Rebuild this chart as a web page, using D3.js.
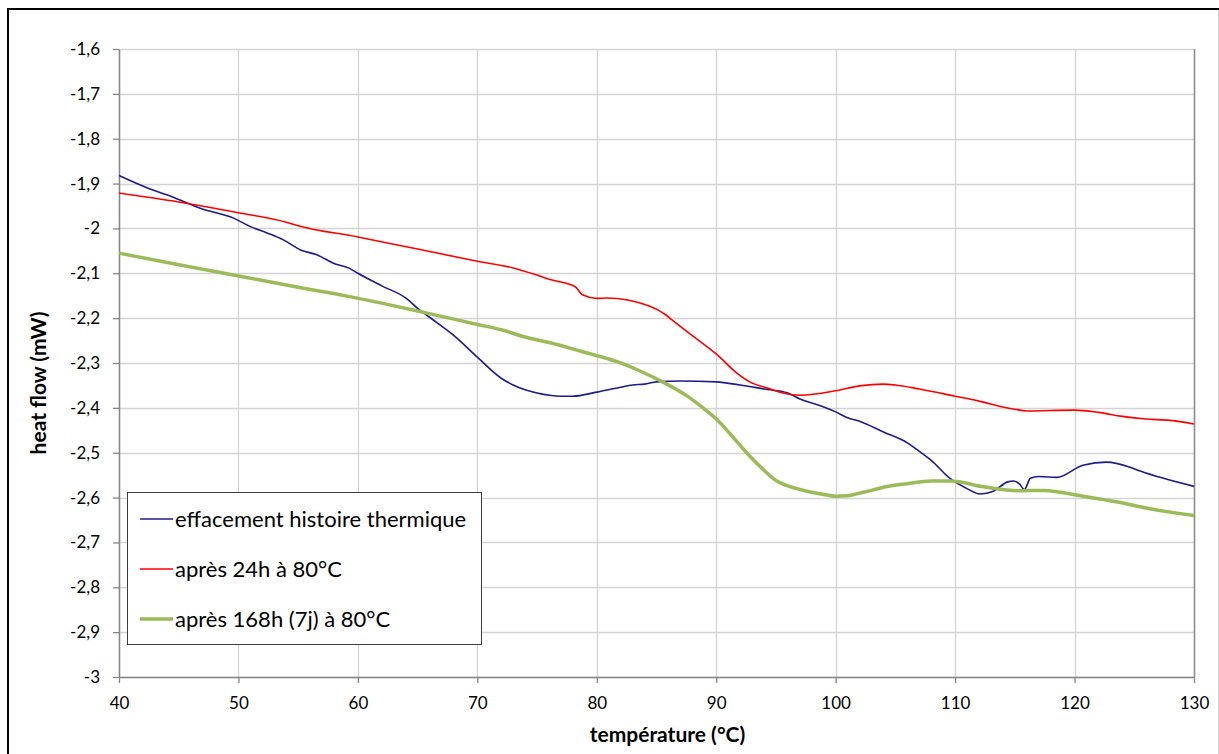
<!DOCTYPE html>
<html><head><meta charset="utf-8">
<script src="https://cdn.jsdelivr.net/npm/d3@7"></script>
<style>body{margin:0;background:#fff;} svg{display:block;font-family:Lato,"Open Sans",sans-serif;}</style>
</head><body>
<svg id="chart" width="1219" height="754"></svg>
<script>
const xTicks = [40,50,60,70,80,90,100,110,120,130];
const yTicks = [-1.6,-1.7,-1.8,-1.9,-2,-2.1,-2.2,-2.3,-2.4,-2.5,-2.6,-2.7,-2.8,-2.9,-3];
const yTickLabels = ["-1,6","-1,7","-1,8","-1,9","-2","-2,1","-2,2","-2,3","-2,4","-2,5","-2,6","-2,7","-2,8","-2,9","-3"];
const seriesNames = ["effacement histoire thermique","après 24h à 80°C","après 168h (7j) à 80°C"];

const blueX = [40,42.6,44,45.4,46.8,49.6,51,52.4,53.8,55.2,56.6,58,59.3,60,62,64,65,66,68,70,72,73,75,77,78,80,82,83,84,85,87,90,92,94,96,97,98,99,100,101,102,104,106,107,108,109.6,111,112.1,113.2,114.4,114.9,115.4,115.8,116.3,117,118.5,120.7,122.7,124.6,125.5,130];
const blueY = [-1.882,-1.912,-1.925,-1.94,-1.955,-1.977,-1.996,-2.01,-2.026,-2.048,-2.059,-2.078,-2.089,-2.1,-2.128,-2.155,-2.178,-2.198,-2.238,-2.287,-2.334,-2.349,-2.367,-2.374,-2.374,-2.365,-2.354,-2.349,-2.347,-2.342,-2.34,-2.342,-2.349,-2.358,-2.367,-2.38,-2.389,-2.398,-2.409,-2.422,-2.43,-2.454,-2.478,-2.497,-2.517,-2.558,-2.58,-2.592,-2.586,-2.565,-2.563,-2.57,-2.582,-2.557,-2.553,-2.555,-2.528,-2.521,-2.532,-2.541,-2.575];

const redX = [40,45,50,54,55,60,65,70,73,75,76.1,78.2,78.8,80,80.8,84.4,85.8,86.3,87.7,90.1,91.7,92.8,94.3,95.6,97,100,102,104,105,107,110,112,114,115,116,120,122,124,126,128,130];
const redY = [-1.921,-1.941,-1.965,-1.986,-1.994,-2.019,-2.046,-2.073,-2.088,-2.104,-2.114,-2.13,-2.148,-2.156,-2.155,-2.173,-2.193,-2.204,-2.233,-2.282,-2.322,-2.342,-2.356,-2.367,-2.372,-2.362,-2.351,-2.347,-2.349,-2.358,-2.374,-2.385,-2.398,-2.403,-2.407,-2.405,-2.41,-2.419,-2.425,-2.428,-2.436];

const greenX = [40,45,50,55,59.3,65,67,70,72,74,76.1,78.8,81.7,83.8,85.5,87.7,88.8,90.1,91.1,92.2,94,95,96,97,98,99,100,101,102,103,104,106,108,109.6,112.4,115.2,117.4,120.7,123.6,126.3,130];
const greenY = [-2.055,-2.081,-2.106,-2.131,-2.152,-2.184,-2.196,-2.214,-2.226,-2.242,-2.255,-2.275,-2.297,-2.32,-2.342,-2.376,-2.398,-2.427,-2.456,-2.49,-2.539,-2.562,-2.574,-2.582,-2.588,-2.593,-2.597,-2.596,-2.59,-2.584,-2.577,-2.569,-2.563,-2.563,-2.576,-2.585,-2.584,-2.597,-2.61,-2.625,-2.64];

const svg = d3.select("#chart");
const L = 119, R = 1194, T = 49, B = 677;
const x = d3.scaleLinear().domain([40,130]).range([L,R]);
const y = d3.scaleLinear().domain([-3,-1.6]).range([B,T]);

// outer border
svg.append("rect").attr("x",8).attr("y",9).attr("width",1230).attr("height",770)
  .attr("fill","none").attr("stroke","#000").attr("stroke-width",2);
svg.append("line").attr("x1",1218.5).attr("x2",1218.5).attr("y1",10).attr("y2",754).attr("stroke","#d0d0d0");

// grid
svg.append("g").selectAll("line").data(yTicks).join("line")
  .attr("x1",L).attr("x2",R).attr("y1",d=>Math.round(y(d))+0.5).attr("y2",d=>Math.round(y(d))+0.5)
  .attr("stroke","#d4d4d4").attr("stroke-width",1.3);
svg.append("g").selectAll("line").data(xTicks).join("line")
  .attr("y1",T).attr("y2",B).attr("x1",d=>Math.round(x(d))+0.5).attr("x2",d=>Math.round(x(d))+0.5)
  .attr("stroke","#d4d4d4").attr("stroke-width",1.3);
// plot border right
svg.append("line").attr("x1",R+0.5).attr("x2",R+0.5).attr("y1",T).attr("y2",B).attr("stroke","#8c8c8c").attr("stroke-width",1.5);

// axes
const yAxis = d3.axisLeft(y).tickValues(yTicks).tickFormat((d,i)=>yTickLabels[i]).tickSizeInner(6).tickSizeOuter(0).tickPadding(13);
const xAxis = d3.axisBottom(x).tickValues(xTicks).tickFormat(d=>d).tickSizeInner(6).tickSizeOuter(0).tickPadding(14);
const gy = svg.append("g").attr("transform",`translate(${L},0)`).call(yAxis);
const gx = svg.append("g").attr("transform",`translate(0,${B})`).call(xAxis);
[gy,gx].forEach(g=>{
  g.select(".domain").attr("stroke","#868686").attr("stroke-width",1.5);
  g.selectAll(".tick line").attr("stroke","#868686").attr("stroke-width",1.3);
  g.selectAll(".tick text").attr("font-size",17).attr("fill","#000").attr("font-family","Lato");
});

// lines
const line = d3.line().x(d=>x(d[0])).y(d=>y(d[1])).curve(d3.curveMonotoneX);
const zip = (a,b)=>a.map((v,i)=>[v,b[i]]);
const series = [
  {name:seriesNames[0], data:zip(blueX,blueY), color:"#1c1c8c", w:1.6},
  {name:seriesNames[1], data:zip(redX,redY), color:"#ff0000", w:1.6},
  {name:seriesNames[2], data:zip(greenX,greenY), color:"#9bbb59", w:3.5},
];
series.forEach(s=>{
  svg.append("path").attr("d",line(s.data)).attr("fill","none")
    .attr("stroke",s.color).attr("stroke-width",s.w).attr("stroke-linejoin","round");
});

// legend
const lg = svg.append("g");
lg.append("rect").attr("x",127.5).attr("y",492.5).attr("width",354).attr("height",152)
  .attr("fill","#fff").attr("stroke","#3c3c3c").attr("stroke-width",1);
series.forEach((s,i)=>{
  const cy = 519 + i*50;
  lg.append("line").attr("x1",140).attr("x2",173).attr("y1",cy).attr("y2",cy)
    .attr("stroke",s.color).attr("stroke-width",s.w);
  lg.append("text").attr("x",175).attr("y",cy).attr("dy","0.35em")
    .attr("font-size",22).attr("font-family","Lato").text(s.name);
});

// axis titles
svg.append("text").attr("x",(L+R)/2 + 11).attr("y",735).attr("dy","0.35em").attr("text-anchor","middle")
  .attr("font-size",21).attr("font-weight","bold").text("température (°C)");
svg.append("text").attr("transform",`translate(39,383) rotate(-90)`).attr("dy","0.35em")
  .attr("text-anchor","middle").attr("font-size",21).attr("font-weight","bold").text("heat flow (mW)");
</script>
</body></html>
